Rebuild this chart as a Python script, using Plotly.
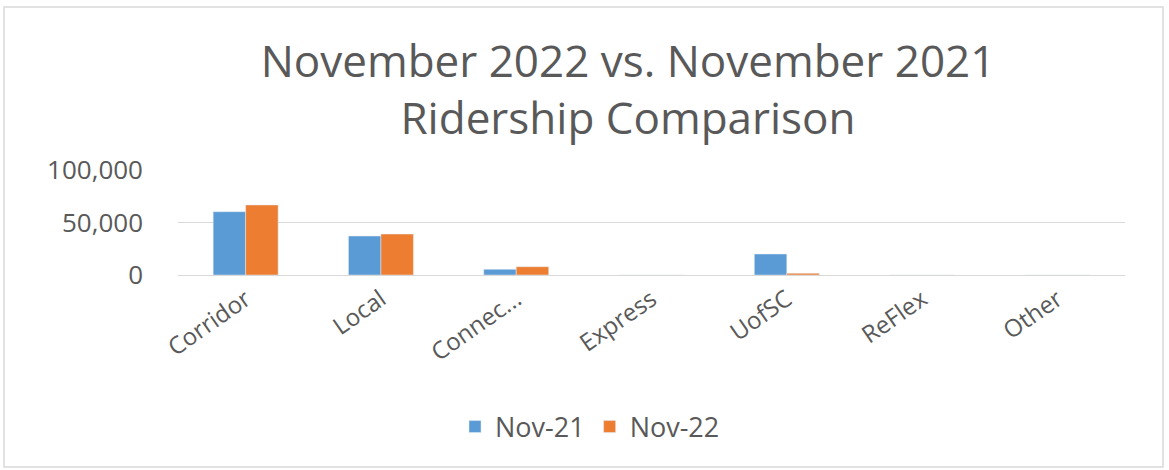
import plotly.graph_objects as go

categories = ["Corridor", "Local", "Connec...", "Express", "UofSC", "ReFlex", "Other"]
nov21 = [60300, 37100, 5400, 0, 20000, 0, 0]
nov22 = [66700, 39000, 7900, 0, 1600, 0, 0]
series_names = ["Nov-21", "Nov-22"]
tick_vals = [0, 50000, 100000]
tick_text = ["0", "50,000", "100,000"]

BLUE = "#5B9BD5"
ORANGE = "#ED7D31"
GRAY = "#595959"
FONT = "Open Sans"

fig = go.Figure()
fig.add_trace(go.Bar(x=categories, y=nov21, name=series_names[0], marker_color=BLUE))
fig.add_trace(go.Bar(x=categories, y=nov22, name=series_names[1], marker_color=ORANGE))

L, R, T, B = 178, 44, 170, 195
W, H = 1169, 470
pw, ph = W - L - R, H - T - B

fig.update_layout(
    width=W, height=H,
    margin=dict(l=L, r=R, t=T, b=B, pad=0),
    paper_bgcolor="white", plot_bgcolor="white",
    barmode="group", bargap=0.52, bargroupgap=0,
    font=dict(family=FONT, color=GRAY),
    title=dict(
        text="November 2022 vs. November 2021<br>Ridership Comparison",
        x=628 / W, xanchor="center", xref="container",
        y=1 - 77 / H, yanchor="middle", yref="container",
        font=dict(family=FONT, size=44, color=GRAY),
    ),
    showlegend=True,
    legend=dict(
        orientation="h", x=(590 - L) / pw, xanchor="center",
        y=(H - B - 427) / ph, yanchor="middle",
        font=dict(family=FONT, size=27, color=GRAY),
        itemwidth=30, traceorder="normal",
    ),
    xaxis=dict(
        tickangle=-35, tickfont=dict(family=FONT, size=24, color=GRAY),
        showgrid=False, showline=True, linecolor="#D9D9D9", linewidth=1,
        ticks="", fixedrange=True,
    ),
    yaxis=dict(
        range=[0, 100000], tickvals=tick_vals, ticktext=tick_text,
        tickfont=dict(family=FONT, size=26, color=GRAY),
        showgrid=True, gridcolor="#D9D9D9", gridwidth=1,
        zeroline=False, showline=False, ticks="", ticklabelstandoff=34,
        fixedrange=True,
    ),
    shapes=[dict(
        type="rect", xref="paper", yref="paper",
        x0=(4 - L) / pw, x1=(1163 - L) / pw,
        y0=(H - B - 467) / ph, y1=(H - B - 7) / ph,
        line=dict(color="#D9D9D9", width=1.5), fillcolor="rgba(0,0,0,0)",
        layer="below",
    )],
)

fig.write_html(
    "out.html",
    config={"displayModeBar": False},
    post_script="document.body.style.margin='0';document.body.style.overflow='hidden';",
)
